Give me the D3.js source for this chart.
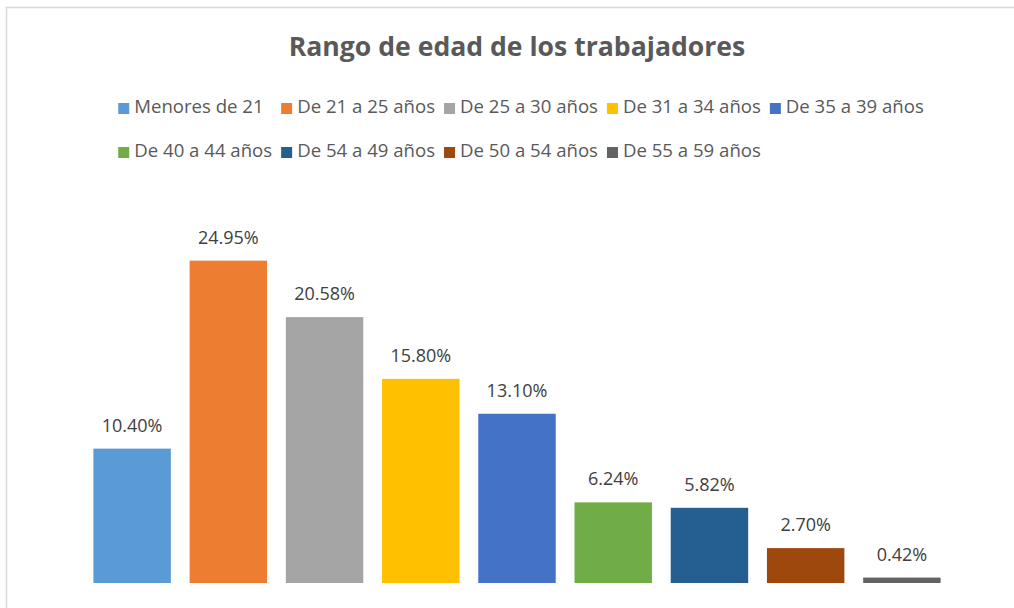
<!DOCTYPE html>
<html>
<head>
<meta charset="utf-8">
<script src="https://cdn.jsdelivr.net/npm/d3@7"></script>
<style>
  body { margin: 0; background: #fff; }
  text { font-family: "Open Sans", "Noto Sans", sans-serif; }
</style>
</head>
<body>
<div id="viz"></div>
<script>
// chart data
var categories = ["Menores de 21", "De 21 a 25 años", "De 25 a 30 años", "De 31 a 34 años",
  "De 35 a 39 años", "De 40 a 44 años", "De 54 a 49 años", "De 50 a 54 años", "De 55 a 59 años"];
var values = [10.40, 24.95, 20.58, 15.80, 13.10, 6.24, 5.82, 2.70, 0.42];
var colors = ["#5B9BD5", "#ED7D31", "#A5A5A5", "#FFC000", "#4472C4",
  "#70AD47", "#255E91", "#9E480E", "#636363"];
var title = "Rango de edad de los trabajadores";

var width = 1014, height = 608;

var svg = d3.select("#viz")
  .append("svg")
    .attr("width", width)
    .attr("height", height);

// chart frame (cropped on the right and bottom)
svg.append("rect")
  .attr("x", 6.5).attr("y", 7.5)
  .attr("width", 1040).attr("height", 640)
  .attr("fill", "#fff")
  .attr("stroke", "#D9D9D9")
  .attr("stroke-width", 1.5);

var centerX = 517;

// title
svg.append("text")
  .attr("x", centerX).attr("y", 56)
  .attr("text-anchor", "middle")
  .style("font-size", "26.6px")
  .style("font-weight", "bold")
  .style("fill", "#595959")
  .text(title);

// scales
var x = d3.scaleBand()
  .domain(categories)
  .range([84, 950])
  .paddingInner(0.195)
  .paddingOuter(0.0975);

var y = d3.scaleLinear()
  .domain([0, 30])
  .range([583, 195.4]);

// bars
svg.append("g")
  .selectAll("rect")
  .data(values)
  .enter()
  .append("rect")
    .attr("x", function(d, i) { return x(categories[i]); })
    .attr("y", function(d) { return y(d); })
    .attr("width", x.bandwidth())
    .attr("height", function(d) { return y(0) - y(d); })
    .attr("fill", function(d, i) { return colors[i]; });

// data labels
svg.append("g")
  .selectAll("text")
  .data(values)
  .enter()
  .append("text")
    .attr("x", function(d, i) { return x(categories[i]) + x.bandwidth() / 2; })
    .attr("y", function(d) { return y(d) - 17; })
    .attr("text-anchor", "middle")
    .style("font-size", "18px")
    .style("fill", "#404040")
    .text(function(d) { return d.toFixed(2) + "%"; });

// legend: two rows, columns sized to widest entry
var perRow = 5, sq = 11, gap = 5, colPad = 9;
var legend = svg.append("g");
var items = legend.selectAll("g")
  .data(categories)
  .enter()
  .append("g");

items.append("rect")
  .attr("width", sq).attr("height", sq)
  .attr("y", -10)
  .attr("fill", function(d, i) { return colors[i]; });

items.append("text")
  .attr("x", sq + gap)
  .style("font-size", "18.6px")
  .style("fill", "#595959")
  .text(function(d) { return d; });

var colW = d3.range(perRow).map(function() { return 0; });
items.each(function(d, i) {
  var w = sq + gap + d3.select(this).select("text").node().getComputedTextLength();
  colW[i % perRow] = Math.max(colW[i % perRow], w);
});
var colX = [], acc = 0;
colW.forEach(function(w, i) { colX.push(acc); acc += w + colPad; });
var totalW = acc - colPad;
var legendX = 521 - totalW / 2;

items.attr("transform", function(d, i) {
  return "translate(" + (legendX + colX[i % perRow]) + "," + (113 + Math.floor(i / perRow) * 44) + ")";
});
</script>
</body>
</html>
